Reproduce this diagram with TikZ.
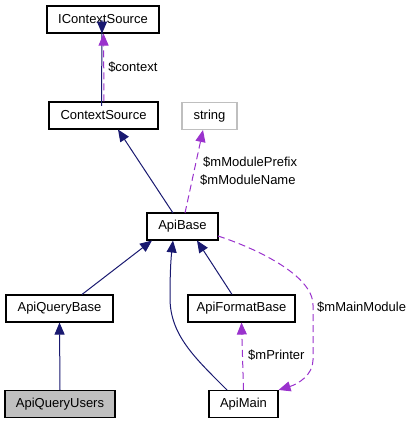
\documentclass[tikz,border=0pt]{standalone}
\usepackage{fontspec}
\setmainfont{Liberation Sans}
\usetikzlibrary{arrows.meta}
\definecolor{inh}{HTML}{191970}
\definecolor{use}{HTML}{9A32CD}
\definecolor{grayb}{HTML}{BFBFBF}
\begin{document}
\begin{tikzpicture}[x=1pt,y=-1pt,font=\fontsize{13}{15}\selectfont,
  cls/.style={draw=black,line width=1.1pt,minimum height=27pt,inner sep=0pt,fill=white},
  ext/.style={draw=grayb,line width=1.1pt,minimum height=27pt,inner sep=0pt,fill=white},
  inhe/.style={draw=inh,line width=1pt,-{Triangle[length=12pt,width=10pt]}},
  usee/.style={draw=use,line width=1pt,dash pattern=on 7pt off 4pt,-{Triangle[length=12pt,width=10pt]}},
  lbl/.style={anchor=west,inner sep=0pt}]
\useasboundingbox (0,0) rectangle (412,424);
% nodes
\node[cls,minimum width=112pt] (ics) at (103,19.5) {IContextSource};
\node[cls,minimum width=109pt] (cs) at (103.5,115.5) {ContextSource};
\node[ext,minimum width=55pt] (str) at (209.5,116) {string};
\node[cls,minimum width=71pt] (ab) at (182.5,226.5) {ApiBase};
\node[cls,minimum width=107pt] (aqb) at (59.5,308.5) {ApiQueryBase};
\node[cls,minimum width=107pt] (afb) at (241.5,308.5) {ApiFormatBase};
\node[cls,minimum width=110pt,fill=grayb] (aqu) at (60,404) {ApiQueryUsers};
\node[cls,minimum width=69pt] (am) at (243.5,404) {ApiMain};
% anchor coordinates
\coordinate (csT1) at ([xshift=-2pt]cs.north);
\coordinate (csT2) at ([xshift=0.5pt]cs.north);
\coordinate (icsB1) at ([xshift=-1pt]ics.south);
\coordinate (icsB2) at ([xshift=0.5pt]ics.south);
% inheritance
\draw[inhe] (csT1) .. controls ([yshift=-30pt]csT1) and ([yshift=30pt]icsB1) .. (icsB1);
\draw[inhe] (173,213) -- (118,129.5);
\draw[inhe] (aqb.north -| 82,0) -- (152,240.5);
\draw[inhe] (afb.north -| 232,0) -- (197,240.5);
\draw[inhe] (am.north -| 227,0) .. controls (195,358) and (170,335) .. (170,298) .. controls (170,272) and (171,258) .. (173,240.5);
\draw[inhe] (aqu.north) -- (aqb.south);
% usage
\draw[usee] (csT2) -- (icsB2) node[lbl,pos=0.5,right=4pt] {\$context};
\draw[usee] (185,213) -- (203,130);
\node[lbl] (l1) at (203,162) {\$mModulePrefix};
\node[lbl] (l2) at (200,180) {\$mModuleName};
\draw[usee] (am.north) -- (afb.south);
\node[lbl] (l3) at (248,355) {\$mPrinter};
\draw[usee] (218,236) .. controls (255,248) and (313,275) .. (313,305) -- (313,360) .. controls (313,375) and (298,384) .. (am.north east);
\node[lbl] (l4) at (317,307) {\$mMainModule};
\end{tikzpicture}
\end{document}
